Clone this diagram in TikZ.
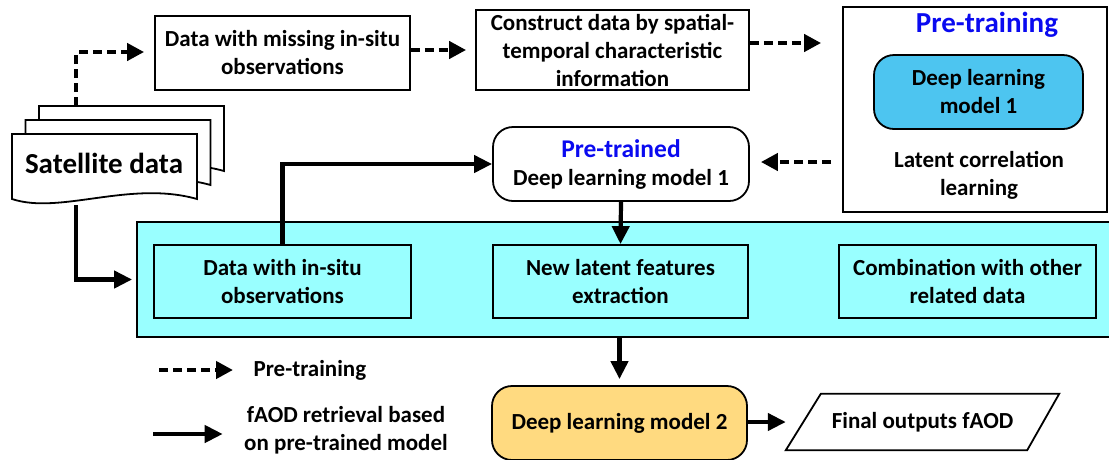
\documentclass[tikz,border=0pt]{standalone}
\usepackage{fontspec}
\setmainfont{Carlito}
\usetikzlibrary{arrows.meta,calc}
\definecolor{bandcyan}{RGB}{153,255,255}
\definecolor{dlmblue}{RGB}{77,197,240}
\definecolor{dlmyellow}{RGB}{255,218,128}
\definecolor{titleblue}{RGB}{10,10,240}
\tikzset{
  every node/.style={font=\bfseries\fontsize{23}{28}\selectfont},
  boxs/.style={draw, line width=1.8pt, align=center, inner sep=0pt},
  rbox/.style={boxs, rounded corners=20pt},
  pre/.style={line width=4.2pt, dash pattern=on 9pt off 5pt, line cap=butt,
    -{Triangle[length=17pt,width=17pt]}},
  fat/.style={line width=4.2pt, -{Triangle[length=18pt,width=17pt]}},
  docline/.style={line width=1.8pt, fill=white},
}
\begin{document}
\begin{tikzpicture}[x=1pt,y=-1pt]
\useasboundingbox (0,0) rectangle (1109,459);

% satellite data stack
\foreach \dx/\dy in {27/-28, 13.5/-14, 0/0} {
  \draw[docline, shift={(\dx,\dy)}] (12,134) -- (197,134) -- (197,199)
    .. controls (130,180) and (60,215) .. (12,199) -- cycle;
}
\node (sat) at (104,163) {\fontsize{29}{34}\selectfont Satellite data};
\coordinate (satTop) at (76,106);
\coordinate (satBot) at (76,205);

% top row
\node[boxs, minimum width=255pt, minimum height=74pt] (box1) at (282.5,53)
  {Data with missing in-situ\\observations};
\node[boxs, minimum width=273pt, minimum height=80pt] (box2) at (612.5,50)
  {Construct data by spatial-\\temporal characteristic\\information};

% pre-training box
\node[boxs, minimum width=264pt, minimum height=205pt] (pt) at (975,109.5) {};
\node[text=titleblue, font=\bfseries\fontsize{29}{34}\selectfont] (pttitle) at (987,25) {Pre-training};
\node[rbox, fill=dlmblue, minimum width=209pt, minimum height=74pt] (dlm1) at (978.5,92)
  {Deep learning\\model 1};
\node[align=center] (latent) at (979,175) {Latent correlation\\learning};

% pre-trained model
\node[rbox, minimum width=256pt, minimum height=74pt] (ptd) at (621,164)
  {\textcolor{titleblue}{\fontsize{25.5}{28}\selectfont Pre-trained}\\Deep learning model 1};

% band
\node[boxs, fill=bandcyan, minimum width=980pt, minimum height=115pt] (band) at (627,279.5) {};
\node[boxs, minimum width=257pt, minimum height=73pt] (insitu) at (282.5,281.5)
  {Data with in-situ\\observations};
\node[boxs, minimum width=255pt, minimum height=73pt] (newlat) at (620.5,281.5)
  {New latent features\\extraction};
\node[boxs, minimum width=257pt, minimum height=73pt] (comb) at (967.5,281.5)
  {Combination with other\\related data};

% bottom
\node[rbox, fill=dlmyellow, minimum width=255pt, minimum height=74pt] (dlm2) at (619.5,423)
  {Deep learning model 2};
\node[minimum width=273pt, minimum height=56pt, inner sep=0pt] (fin) at (922.5,422) {Final outputs fAOD};
\draw[line width=1.8pt] (fin.south west) -- ([xshift=35pt]fin.north west) -- (fin.north east)
  -- ([xshift=-32pt]fin.south east) -- cycle;

% legend
\coordinate (lg1a) at (159,370);
\node[anchor=west] (lgt1) at (250,370) {Pre-training};
\coordinate (lg2a) at (153,434);
\node[align=center] (lgt2) at (346,430) {fAOD retrieval based\\on pre-trained model};

% connectors
\draw[pre, rounded corners=3pt] (satTop) |- ([xshift=-10pt]box1.west |- 0,52);
\draw[pre] (box1.east |- 0,50) -- ([xshift=-9pt]box2.west |- 0,50);
\draw[pre] (box2.east |- 0,43) -- ([xshift=-21pt]pt.west |- 0,43);
\draw[pre] ([xshift=-11pt]pt.west |- 0,162) -- ([xshift=11pt]ptd.east |- 0,162);
\draw[fat] (insitu.north) |- (ptd.west);
\draw[fat] (ptd.south) -- (newlat.north);
\draw[fat] (satBot) |- ([xshift=-4pt]band.west);
\draw[fat] (dlm2.north |- band.south) -- ([yshift=6pt]dlm2.north);
\draw[fat] (dlm2.east |- fin.west) -- (fin.west);
\draw[pre] (lg1a) -- ([xshift=-17pt]lgt1.west);
\draw[fat] (lg2a) -- ([xshift=-18pt]lgt2.west |- lg2a);
\end{tikzpicture}
\end{document}
